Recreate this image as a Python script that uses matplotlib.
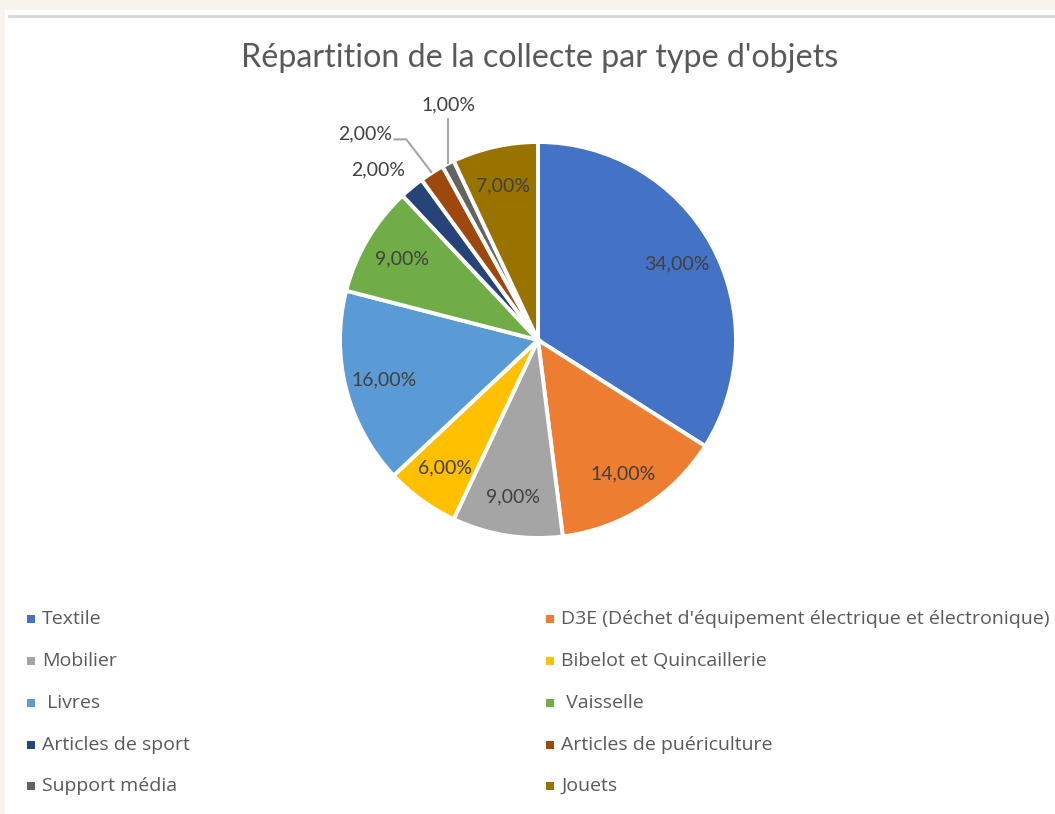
import numpy as np
import matplotlib.pyplot as plt
from matplotlib.patches import Rectangle

plt.rcParams['font.family'] = ['Open Sans', 'DejaVu Sans']

title = "Répartition de la collecte par type d'objets"
categories = ['Textile', "D3E (Déchet d'équipement électrique et électronique)",
              'Mobilier', 'Bibelot et Quincaillerie', ' Livres', ' Vaisselle',
              'Articles de sport', 'Articles de puériculture', 'Support média', 'Jouets']
values = [34, 14, 9, 6, 16, 9, 2, 2, 1, 7]
colors = ['#4472C4', '#ED7D31', '#A5A5A5', '#FFC000', '#5B9BD5',
          '#70AD47', '#264478', '#9E480E', '#636363', '#997300']

W, H = 1055, 814
fig = plt.figure(figsize=(W / 100, H / 100), dpi=100, facecolor='#f7f4ee')

# white panel + top rule
fig.add_artist(Rectangle((5 / W, 0), 1, 1 - 10 / H, transform=fig.transFigure,
                         facecolor='white', edgecolor='none', zorder=0))
fig.add_artist(plt.Line2D([9 / W, 1], [1 - 16 / H] * 2, transform=fig.transFigure,
                          color='#d6d6d6', lw=2, zorder=1))

cx, cy, r = 538, 340, 198
ax = fig.add_axes([(cx - r) / W, (H - cy - r) / H, 2 * r / W, 2 * r / H])

def fmt(p):
    return f'{p:.2f}%'.replace('.', ',')

lab_font = dict(color='#404040', fontsize=14, family=['Lato', 'DejaVu Sans'])

wedges, texts, autotexts = ax.pie(values, colors=colors, startangle=90, counterclock=False,
                                  autopct=fmt, pctdistance=0.8,
                                  wedgeprops=dict(edgecolor='white', linewidth=2.8),
                                  textprops=lab_font)
ax.set_xlim(-1, 1)
ax.set_ylim(-1, 1)
ax.axis('off')

def mid_angle(w):
    return np.deg2rad((w.theta1 + w.theta2) / 2)

lead = dict(color='#a6a6a6', lw=1.5, solid_capstyle='butt', clip_on=False)

# small slices: labels outside the pie
for i in (6, 7, 8):
    autotexts[i].set_visible(False)

# Articles de sport: plain label outside
a = mid_angle(wedges[6]) + np.deg2rad(3.5)
ax.text(1.18 * np.cos(a), 1.18 * np.sin(a), fmt(values[6]), ha='center', va='center', **lab_font)

# Articles de puériculture: label with bent leader line
m = mid_angle(wedges[7])
a = m + np.deg2rad(7.5)
lx, ly = 1.36 * np.cos(a), 1.36 * np.sin(a)
ax.text(lx, ly, fmt(values[7]), ha='center', va='center', **lab_font)
ax.plot([np.cos(m), lx + 0.207, lx + 0.142], [np.sin(m), ly - 0.03, ly - 0.03], **lead)

# Support média: label above a vertical leader line
m = mid_angle(wedges[8])
ex, ey = np.cos(m), np.sin(m)
ax.text(ex, 1.19, fmt(values[8]), ha='center', va='center', **lab_font)
ax.plot([ex, ex], [ey, 1.12], **lead)

fig.text(540 / W, 1 - 58 / H, title, ha='center', va='center',
         fontsize=23.2, color='#595959', family=['Lato', 'DejaVu Sans'])

# legend, two columns
col_x = [31, 550]
row_y = [619, 661, 703, 745, 786]
for i, (name, c) in enumerate(zip(categories, colors)):
    x = col_x[i % 2]
    y = row_y[i // 2]
    fig.add_artist(Rectangle(((x - 4) / W, 1 - (y + 4) / H), 8 / W, 8 / H,
                             transform=fig.transFigure, facecolor=c, edgecolor='none'))
    fig.text((x + 11) / W, 1 - y / H, name, ha='left', va='center',
             fontsize=14, color='#595959')

fig.savefig('out.png', dpi=100, facecolor=fig.get_facecolor())
